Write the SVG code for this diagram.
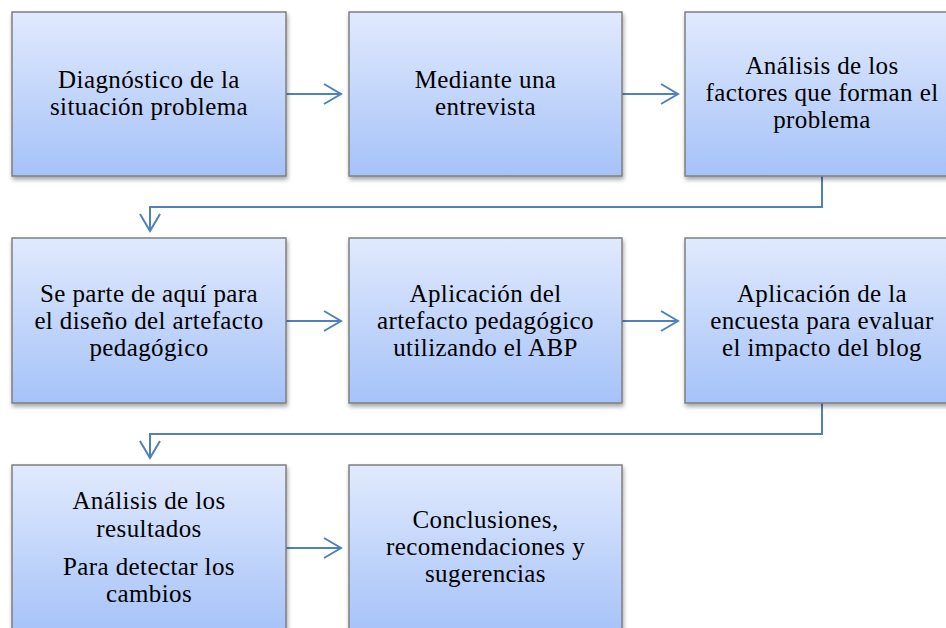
<svg xmlns="http://www.w3.org/2000/svg" width="946" height="628" viewBox="0 0 946 628">
<defs>
<linearGradient id="g" x1="0" y1="0" x2="0" y2="1">
<stop offset="0" stop-color="#e1eafd"/>
<stop offset="1" stop-color="#a5c2f8"/>
</linearGradient>
<filter id="sh" x="-5%" y="-5%" width="115%" height="120%">
<feDropShadow dx="1" dy="3" stdDeviation="2" flood-color="#000" flood-opacity="0.35"/>
</filter>
<marker id="ah" markerWidth="20" markerHeight="24" refX="18" refY="12" orient="auto" markerUnits="userSpaceOnUse">
<path d="M1,2 L18,12 L1,22" fill="none" stroke="#4f81bd" stroke-width="2"/>
</marker>
<style>
.box{fill:url(#g);stroke:#7f7f7f;stroke-width:1.5;filter:url(#sh)}
.t{font-family:"Liberation Serif","Times New Roman",serif;font-size:25px;letter-spacing:0.4px;fill:#000;text-anchor:middle}
.c{fill:none;stroke:#4f81bd;stroke-width:2}
</style>
</defs>
<g id="connectors">
<path class="c" d="M286,94 H341" marker-end="url(#ah)"/>
<path class="c" d="M622,94 H678" marker-end="url(#ah)"/>
<path class="c" d="M822,176 V207 H150 V231" marker-end="url(#ah)"/>
<path class="c" d="M286,321 H341" marker-end="url(#ah)"/>
<path class="c" d="M622,321 H678" marker-end="url(#ah)"/>
<path class="c" d="M822,403 V434 H150 V458" marker-end="url(#ah)"/>
<path class="c" d="M286,548 H341" marker-end="url(#ah)"/>
</g>
<g id="n1"><rect class="box" x="12" y="12" width="274" height="164"/>
<text class="t" x="149" y="88">Diagnóstico de la</text><text class="t" x="149" y="115">situación problema</text></g>
<g id="n2"><rect class="box" x="349" y="12" width="273" height="164"/>
<text class="t" x="485.5" y="88">Mediante una</text><text class="t" x="485.5" y="115">entrevista</text></g>
<g id="n3"><rect class="box" x="685" y="12" width="275" height="164"/>
<text class="t" x="822" y="74">Análisis de los</text><text class="t" x="822" y="101">factores que forman el</text><text class="t" x="822" y="128">problema</text></g>
<g id="n4"><rect class="box" x="12" y="238" width="274" height="165"/>
<text class="t" x="149" y="302">Se parte de aquí para</text><text class="t" x="149" y="329">el diseño del artefacto</text><text class="t" x="149" y="356">pedagógico</text></g>
<g id="n5"><rect class="box" x="349" y="238" width="273" height="165"/>
<text class="t" x="485.5" y="302">Aplicación del</text><text class="t" x="485.5" y="329">artefacto pedagógico</text><text class="t" x="485.5" y="356">utilizando el ABP</text></g>
<g id="n6"><rect class="box" x="685" y="238" width="275" height="165"/>
<text class="t" x="822" y="302">Aplicación de la</text><text class="t" x="822" y="329">encuesta para evaluar</text><text class="t" x="822" y="356">el impacto del blog</text></g>
<g id="n7"><rect class="box" x="12" y="465" width="274" height="170"/>
<text class="t" x="149" y="509">Análisis de los</text><text class="t" x="149" y="537">resultados</text><text class="t" x="149" y="575">Para detectar los</text><text class="t" x="149" y="602">cambios</text></g>
<g id="n8"><rect class="box" x="349" y="465" width="273" height="170"/>
<text class="t" x="485.5" y="528">Conclusiones,</text><text class="t" x="485.5" y="555">recomendaciones y</text><text class="t" x="485.5" y="582">sugerencias</text></g>
</svg>
